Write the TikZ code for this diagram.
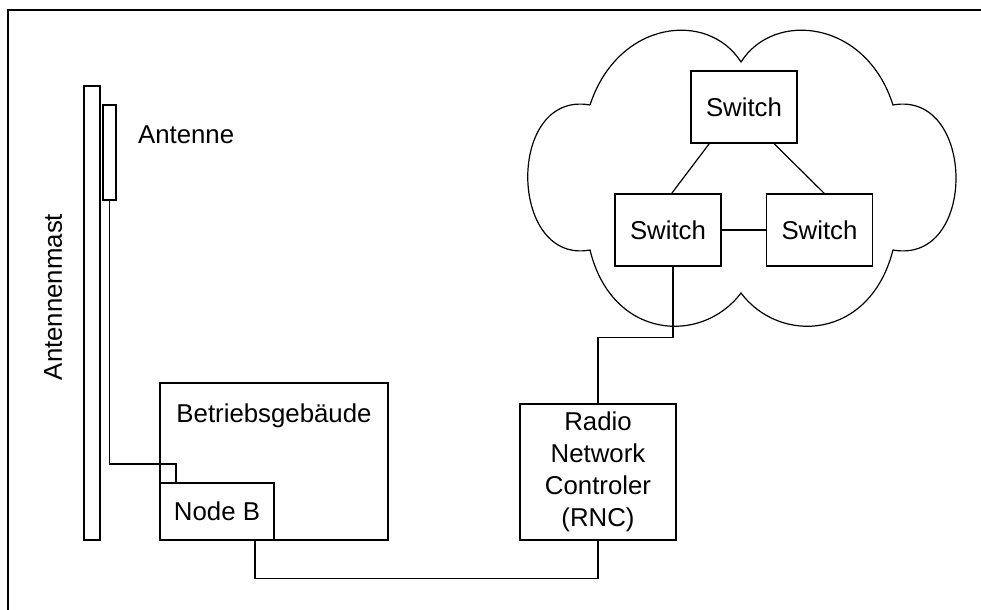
\documentclass[tikz,border=0pt]{standalone}
\usepackage{fontspec}
\setmainfont{Liberation Sans}
\usepackage{tikz}
\usetikzlibrary{positioning}

\tikzset{
  box/.style={draw, rectangle, inner sep=0pt, line width=0.6pt, align=center},
  switchbox/.style={box, minimum width=53pt, minimum height=36pt},
  cable/.style={line width=0.6pt}
}

\begin{document}
\begin{tikzpicture}[x=0.5pt, y=-0.5pt, font=\fontsize{12.9}{16}\selectfont]
      \useasboundingbox (0,0) rectangle (981,610);
      \draw[line width=1pt] (8,610) -- (8,10) -- (981,10);
      % mast and antenna
      \node[box, minimum width=8pt, minimum height=227pt]  (mast) at (92,313) {};
      \node[box, minimum width=6.5pt, minimum height=47.5pt] (ant) at (109.5,152.5) {};
      \node[anchor=west] (anttext) at (131,135) {Antenne};
      \node[rotate=90] (masttext) at (53,297) {Antennenmast};
      % building
      \node[box, minimum width=114pt, minimum height=78.5pt] (bld) at (274,461.5) {};
      \node (bldtext) at ([yshift=-16.5pt]bld.north) {Betriebsgeb\"aude};
      \node[box, minimum width=57pt, minimum height=28.5pt] (nodeb) at (217,511.5) {Node B};
      \node[box, minimum width=78pt, minimum height=68pt] (rnc) at (598,472)
        {Radio\\Network\\Controler\\(RNC)};
      % cloud
      \draw[cable] (590,105) .. controls (618,20) and (708,10) .. (741,62)
        .. controls (774,10) and (866,20) .. (893,105)
        .. controls (976,90) and (978,265) .. (893,250)
        .. controls (870,340) and (780,345) .. (741,293)
        .. controls (702,345) and (612,340) .. (590,250)
        .. controls (508,265) and (506,90) .. (590,105);
      \node[switchbox] (swtop)   at (744,107)   {Switch};
      \node[switchbox] (swleft)  at (668,230)   {Switch};
      \node[switchbox] (swright) at (819.5,230) {Switch};
      % links
      \coordinate (bend) at (176,464);
      \draw[cable] (ant.south) |- (bend) -- (bend |- nodeb.north);
      \draw[cable] ([xshift=19pt]nodeb.south) -- ++(0,-19pt) -| (rnc.south);
      \draw[cable] (rnc.north) -- ++(0,33pt) -| ([xshift=2.5pt]swleft.south);
      \draw[cable] ([xshift=-17.35pt]swtop.south) -- ([xshift=1.85pt]swleft.north);
      \draw[cable] ([xshift=15pt]swtop.south) -- ([xshift=2.4pt]swright.north);
      \draw[cable] (swleft.east) -- (swright.west);
\end{tikzpicture}
\end{document}
